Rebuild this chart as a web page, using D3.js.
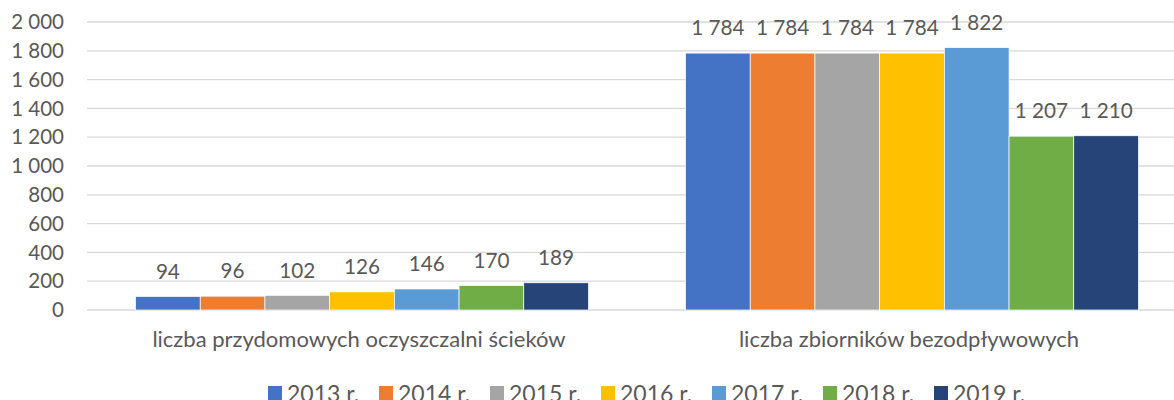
<!DOCTYPE html>
<html>
<head>
<meta charset="utf-8">
<script src="https://cdn.jsdelivr.net/npm/d3@7"></script>
<style>
  body { margin: 0; background: #fff; overflow: hidden; }
  svg text { font-family: Lato, "Open Sans", sans-serif; fill: #595959; }
</style>
</head>
<body>
<div id="chart"></div>
<script>
// chart data
var categories = ["liczba przydomowych oczyszczalni ścieków", "liczba zbiorników bezodpływowych"];
var years = ["2013 r.", "2014 r.", "2015 r.", "2016 r.", "2017 r.", "2018 r.", "2019 r."];
var oczyszczalnie = [94, 96, 102, 126, 146, 170, 189];
var zbiorniki = [1784, 1784, 1784, 1784, 1822, 1207, 1210];
var yTicks = [0, 200, 400, 600, 800, 1000, 1200, 1400, 1600, 1800, 2000];
var colors = ["#4472C4", "#ED7D31", "#A5A5A5", "#FFC000", "#5B9BD5", "#70AD47", "#264478"];

var width = 1174,
    height = 400;

var svg = d3.select("#chart").append("svg")
    .attr("width", width)
    .attr("height", height);

// build rows for each category
var rows = categories.map(function(c, i) {
    var vals = i === 0 ? oczyszczalnie : zbiorniki;
    return {cat: c, values: years.map(function(y, j) { return {year: y, value: vals[j]}; })};
});

// the plot area runs a bit past the right edge of the picture
var x0 = d3.scaleBand().domain(categories).range([87, 1187]);
var x1 = d3.scaleBand().domain(years).range([0, x0.bandwidth()]).paddingInner(0).paddingOuter(0.75);
var y = d3.scaleLinear().domain([0, 2000]).range([310, 22]);
var color = d3.scaleOrdinal().domain(years).range(colors);

// gridlines
svg.append("g").selectAll("line")
    .data(yTicks).enter().append("line")
    .attr("x1", 87).attr("x2", width)
    .attr("y1", function(d) { return y(d); })
    .attr("y2", function(d) { return y(d); })
    .attr("stroke", "#d9d9d9")
    .attr("stroke-width", 1.3);

// y axis labels, space as thousands separator
var fmt = function(d) { return d3.format(",")(d).replace(/,/g, " "); };
svg.append("g").selectAll("text")
    .data(yTicks).enter().append("text")
    .attr("x", 64)
    .attr("y", function(d) { return y(d); })
    .attr("dy", "0.35em")
    .attr("text-anchor", "end")
    .style("font-size", "20.5px")
    .text(fmt);

// bars
var group = svg.selectAll(".grp")
    .data(rows).enter().append("g")
    .attr("class", "grp")
    .attr("transform", function(d) { return "translate(" + x0(d.cat) + ",0)"; });

group.selectAll("rect")
    .data(function(d) { return d.values; })
    .enter().append("rect")
    .attr("x", function(d) { return x1(d.year); })
    .attr("width", x1.bandwidth())
    .attr("y", function(d) { return y(d.value); })
    .attr("height", function(d) { return y(0) - y(d.value); })
    .attr("fill", function(d) { return color(d.year); })
    .attr("stroke", "#fff")
    .attr("stroke-width", 0.7);

// value labels
group.selectAll(".val")
    .data(function(d) { return d.values; })
    .enter().append("text")
    .attr("class", "val")
    .attr("x", function(d) { return x1(d.year) + x1.bandwidth() / 2; })
    .attr("y", function(d) { return y(d.value) - 25; })
    .attr("dy", "0.35em")
    .attr("text-anchor", "middle")
    .style("font-size", "20.7px")
    .text(function(d) { return fmt(d.value); });

// category labels
svg.append("g").selectAll("text")
    .data(categories).enter().append("text")
    .attr("x", function(d) { return x0(d) + x0.bandwidth() / 2 - 3; })
    .attr("y", 347)
    .attr("text-anchor", "middle")
    .style("font-size", "22px")
    .text(function(d) { return d; });

// legend (cut off at the bottom edge as in the source)
var legend = svg.append("g").selectAll("g")
    .data(years).enter().append("g")
    .attr("transform", function(d, i) { return "translate(" + (268 + i * 111) + ",386)"; });

legend.append("rect")
    .attr("width", 14)
    .attr("height", 14)
    .attr("fill", function(d) { return color(d); });

legend.append("text")
    .attr("x", 19)
    .attr("y", 15.5)
    .style("font-size", "23px")
    .text(function(d) { return d; });
</script>
</body>
</html>
